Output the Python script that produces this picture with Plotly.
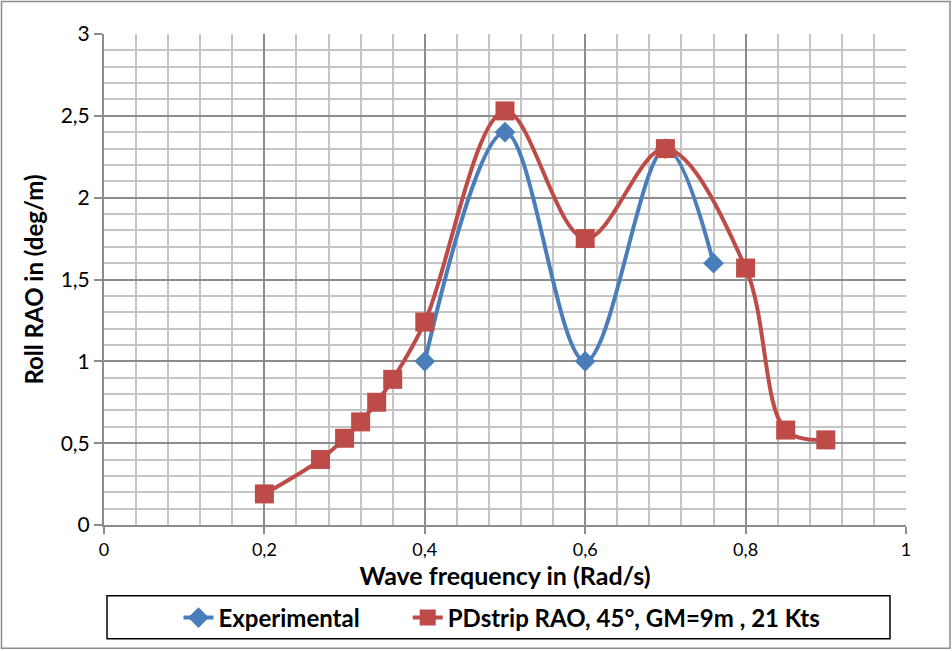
import plotly.graph_objects as go

exp_x = [0.4, 0.5, 0.6, 0.7, 0.76]
exp_y = [1.0, 2.4, 1.0, 2.3, 1.6]

pd_x = [0.2, 0.27, 0.30, 0.32, 0.34, 0.36, 0.40, 0.50, 0.60, 0.70, 0.80, 0.85, 0.90]
pd_y = [0.19, 0.40, 0.53, 0.63, 0.75, 0.89, 1.24, 2.53, 1.75, 2.30, 1.57, 0.58, 0.52]

x_ticks = [0, 0.2, 0.4, 0.6, 0.8, 1]
x_ticklabels = ["0", "0,2", "0,4", "0,6", "0,8", "1"]
y_ticks = [0, 0.5, 1, 1.5, 2, 2.5, 3]
y_ticklabels = ["0", "0,5", "1", "1,5", "2", "2,5", "3"]

FONT = "Lato"
BLUE = "#4a7ebb"
RED = "#be4b48"

fig = go.Figure()
fig.add_trace(go.Scatter(
    x=exp_x, y=exp_y, name="<b>Experimental</b>" + "\u00a0" * 7, mode="lines+markers",
    line=dict(color=BLUE, width=4, shape="spline", smoothing=1.0),
    marker=dict(symbol="diamond", size=16, color=BLUE),
))
fig.add_trace(go.Scatter(
    x=pd_x, y=pd_y, name="<b>PDstrip RAO, 45°, GM=9m , 21 Kts</b>", mode="lines+markers",
    line=dict(color=RED, width=4, shape="spline", smoothing=1.0),
    marker=dict(symbol="square", size=19, color=RED),
))

L, R, T, B = 104, 46, 34, 125
W, H = 952, 651
pw, ph = W - L - R, H - T - B

def px(xp):
    return (xp - L) / pw

def py(yp):
    return (H - B - yp) / ph

fig.update_layout(
    width=W, height=H,
    margin=dict(l=L, r=R, t=T, b=B),
    paper_bgcolor="white", plot_bgcolor="white",
    font=dict(family=FONT, color="black"),
    showlegend=True,
    legend=dict(
        orientation="h", x=px(502), xanchor="center", y=py(618), yanchor="middle",
        font=dict(family=FONT, size=24, color="black"),
        bgcolor="rgba(0,0,0,0)", borderwidth=0,
        tracegroupgap=0,
    ),
    xaxis=dict(
        range=[0, 1], tickvals=x_ticks, ticktext=x_ticklabels,
        showgrid=True, gridcolor="#8c8c8c", gridwidth=2,
        minor=dict(dtick=0.04, showgrid=True, gridcolor="#c4c4c4", gridwidth=2),
        showline=True, linecolor="#8c8c8c", linewidth=2,
        ticks="outside", ticklen=7, tickcolor="#8c8c8c", tickwidth=2,
        tickfont=dict(family=FONT, size=18),
        zeroline=False,
        title=dict(text="<b>Wave frequency in (Rad/s)</b>", font=dict(family=FONT, size=25), standoff=2),
    ),
    yaxis=dict(
        range=[0, 3], tickvals=y_ticks, ticktext=y_ticklabels,
        showgrid=True, gridcolor="#8c8c8c", gridwidth=2,
        minor=dict(dtick=0.1, showgrid=True, gridcolor="#c4c4c4", gridwidth=2),
        showline=True, linecolor="#8c8c8c", linewidth=2,
        ticks="outside", ticklen=8, tickcolor="#8c8c8c", tickwidth=2,
        tickfont=dict(family=FONT, size=21),
        zeroline=False,
        title=dict(text="<b>Roll RAO in (deg/m)</b>", font=dict(family=FONT, size=24), standoff=10),
    ),
    shapes=[
        dict(type="rect", xref="paper", yref="paper",
             x0=px(107), x1=px(890), y0=py(640), y1=py(597),
             line=dict(color="black", width=1.5), fillcolor="rgba(0,0,0,0)", layer="below"),
        dict(type="rect", xref="paper", yref="paper",
             x0=px(1.5), x1=px(950), y0=py(649.5), y1=py(1.5),
             line=dict(color="#8c8c8c", width=1.5), fillcolor="rgba(0,0,0,0)", layer="below"),
    ],
)

fig.write_html("out.html")
